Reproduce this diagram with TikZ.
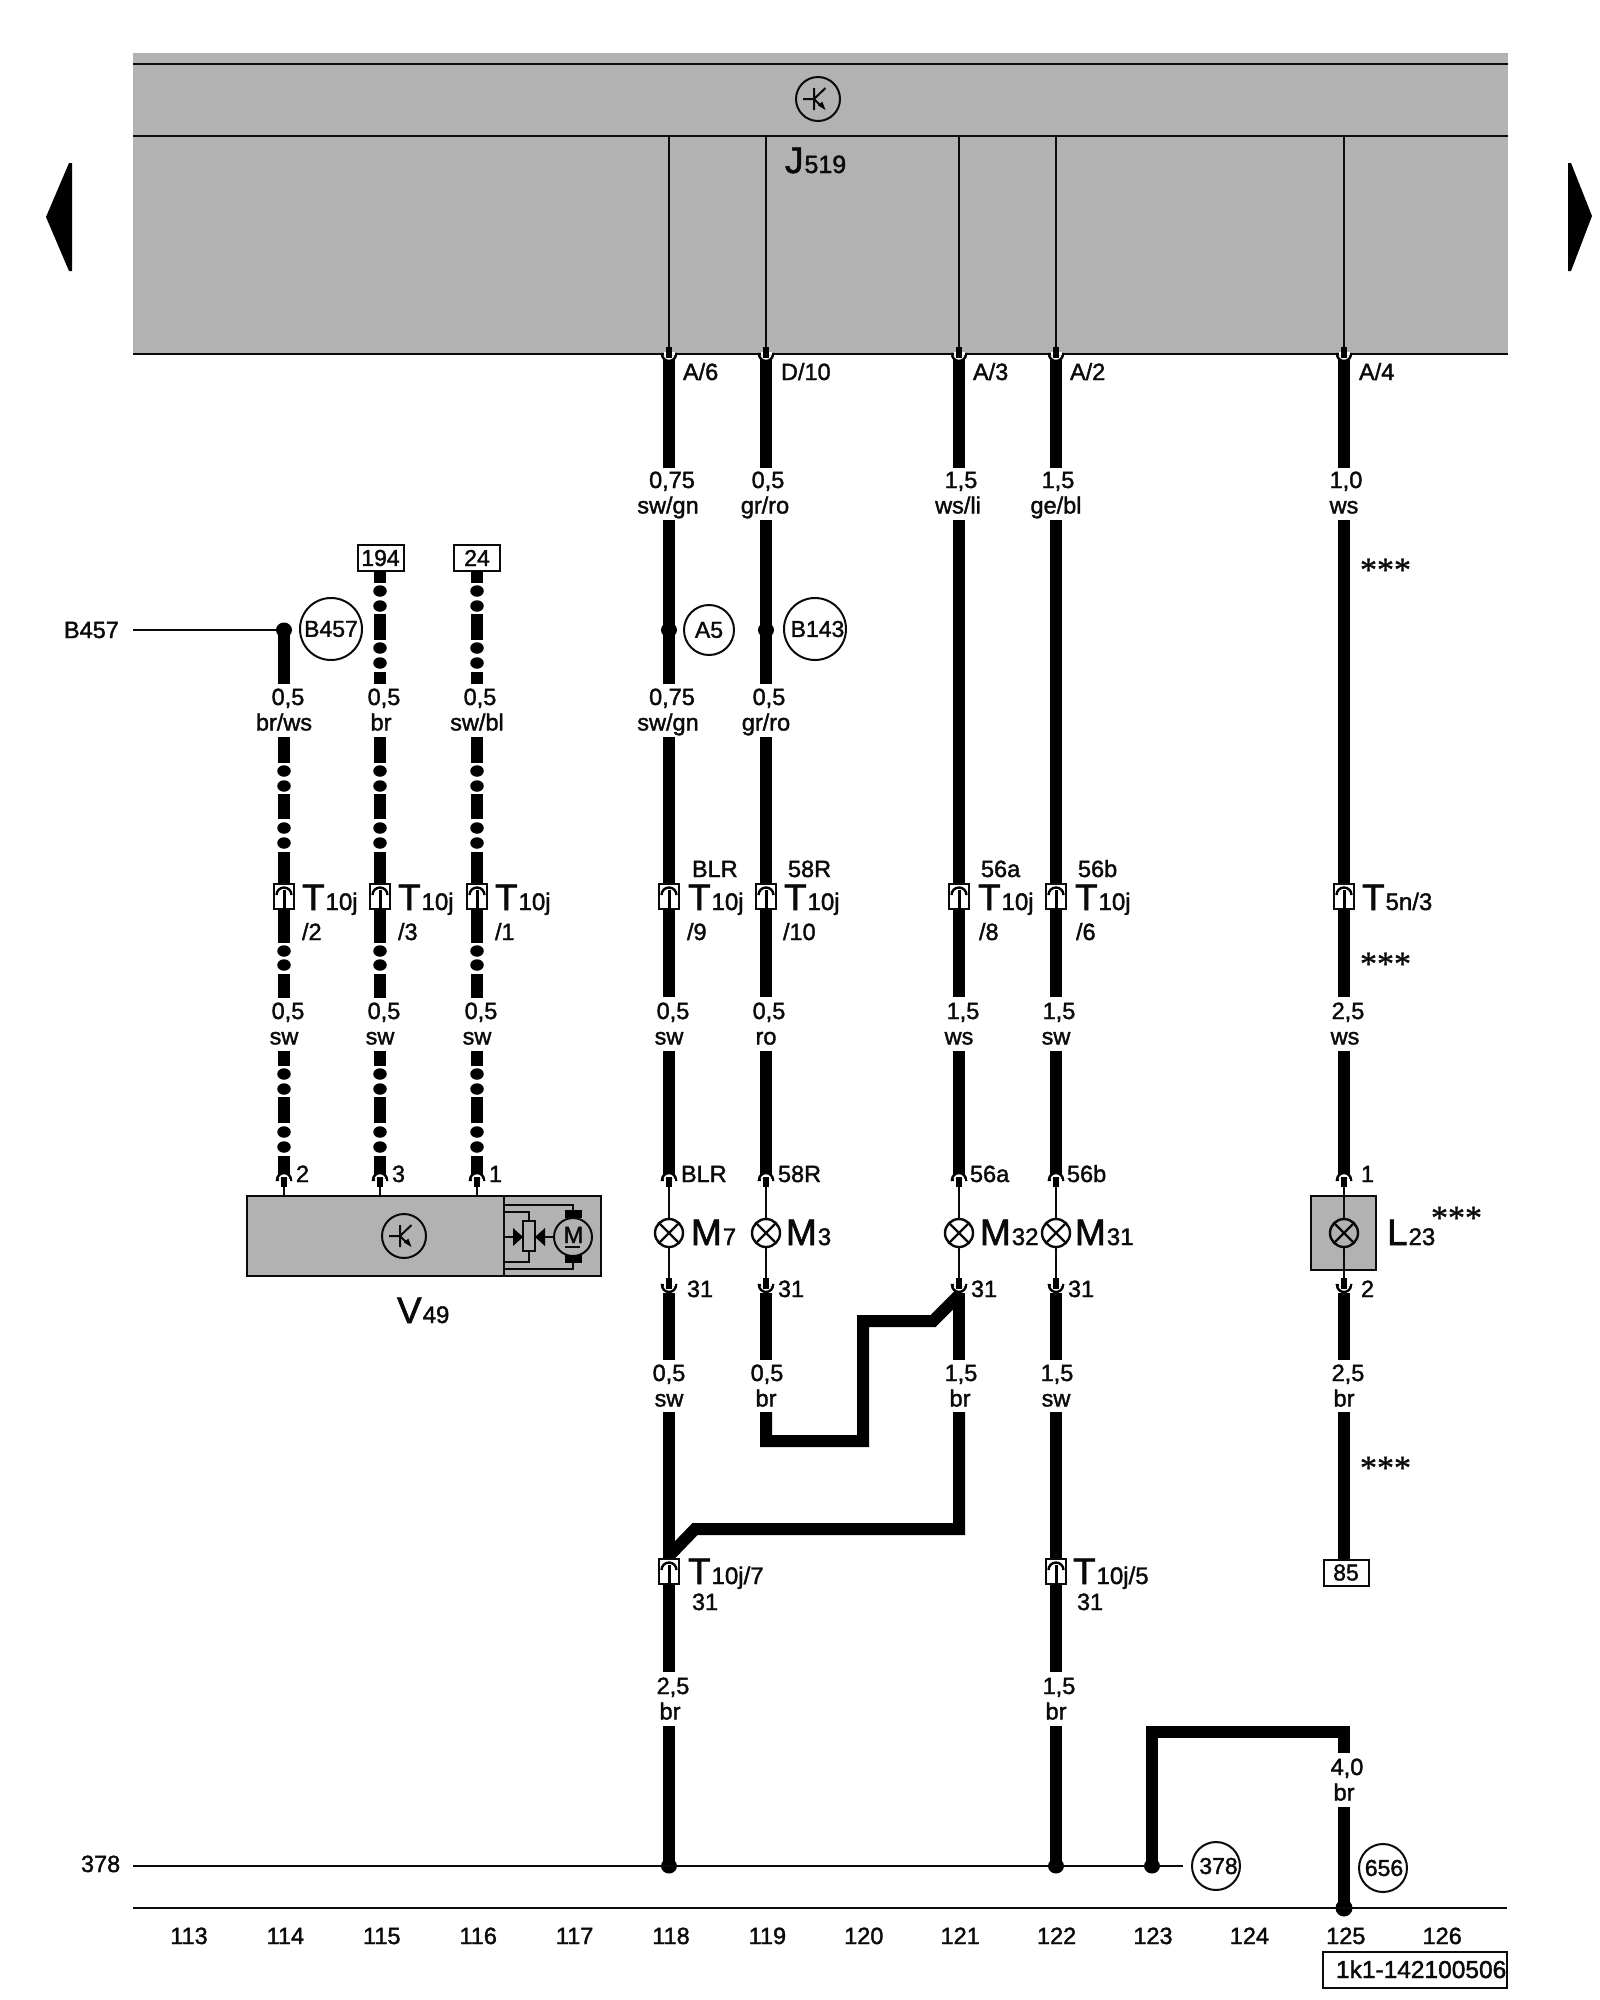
\documentclass[tikz,border=0pt]{standalone}
\usepackage{fontspec}
\usetikzlibrary{shapes.geometric}
\setmainfont{Liberation Sans}[FakeBold=1.6]
\newfontfamily\starfont{Liberation Serif}[FakeBold=0.8]
\newcommand\fsz[1]{\fontsize{#1}{#1}\selectfont}
\definecolor{panel}{HTML}{B2B2B2}
\definecolor{ink}{HTML}{0A0A0A}
\tikzset{
  wire/.style={line width=12pt,draw=black,line cap=butt,line join=miter},
  thinw/.style={line width=2pt,draw=ink,line cap=butt},
  rule/.style={line width=2.6pt,draw=ink},
  txt/.style={inner sep=0pt,outer sep=0pt,text=ink,font=\fsz{23.5}},
  west/.style={txt,anchor=base west},
  mid/.style={txt,anchor=base},
  ring/.style={circle,draw=ink,line width=2pt,inner sep=0pt,font=\fsz{23},text=ink},
  tagbox/.style={rectangle,draw=ink,line width=2pt,fill=white,inner sep=0pt,font=\fsz{23},text=ink,minimum width=46pt,minimum height=26pt},
  conbox/.style={rectangle,draw=ink,line width=2pt,fill=white,inner sep=0pt,minimum width=20pt,minimum height=25pt},
  lampn/.style={circle,draw=ink,line width=2.4pt,inner sep=0pt,minimum size=28pt},
  joint/.style={ellipse,fill=black,inner sep=0pt,minimum width=16pt,minimum height=15pt},
  blob/.style={ellipse,fill=black,inner sep=0pt,minimum width=13.5pt,minimum height=11.5pt}
}
% straight wire segment
\newcommand\seg[3]{\coordinate (s#1-#2) at (#1,#2);\coordinate (s#1-#3) at (#1,#3);\draw[wire] (s#1-#2) -- (s#1-#3);}
% round dot on a dotted wire
\newcommand\dotw[2]{\node[blob] (d#1-#2) at (#1,#2) {};}
% arch: the end of a wire that comes from above
\newcommand\archpin[3]{%
  \path[fill=white,draw=black,line width=2.4pt] (#2-7,#3+2) arc[start angle=180,end angle=360,radius=7] -- cycle;
  \draw[draw=white,line width=3pt] (#2-5.5,#3+2.6) -- (#2+5.5,#3+2.6);
  \fill[black] (#2-2.6,#3-1) rectangle (#2+2.6,#3+9);
  \coordinate (#1) at (#2,#3+9);}
% cup: the start of a wire that goes on below
\newcommand\cuppin[3]{%
  \path[fill=white,draw=black,line width=2.4pt] (#2-7,#3-1) arc[start angle=180,end angle=0,radius=7] -- cycle;
  \draw[draw=white,line width=3pt] (#2-5.5,#3-1.6) -- (#2+5.5,#3-1.6);
  \fill[black] (#2-2.6,#3-8) rectangle (#2+2.6,#3+3);
  \coordinate (#1) at (#2,#3-8);}
% connector station
\newcommand\station[3]{%
  \node[conbox] (#1) at (#2,#3) {};
  \draw[line width=2.4pt,draw=black] (#2-7.5,#3-1) arc[start angle=180,end angle=360,radius=7.5];
  \draw[line width=3pt,draw=black] (#2,#3-6) -- (#1.south);}
% lamp
\newcommand\lampsym[3]{%
  \node[lampn] (#1) at (#2,#3) {};
  \draw[line width=2.2pt,draw=ink] (#2-9.6,#3-9.6) -- (#2+9.6,#3+9.6) (#2-9.6,#3+9.6) -- (#2+9.6,#3-9.6);}
% transistor in a ring
\newcommand\transis[3]{%
  \node[ring,minimum size=44pt] (#1) at (#2,#3) {};
  \draw[line width=2pt,draw=ink] (#2-15,#3) -- (#2-4,#3) (#2-4,#3-11) -- (#2-4,#3+11) (#2-4,#3) -- (#2+7.5,#3-11) (#2-4,#3) -- (#2+3,#3+7);
  \fill[black] (#2+7.5,#3+11) -- (#2+4.3,#3+2.6) -- (#2+0,#3+6.4) -- cycle;}
% big letter with index
\newcommand\bigtag[5]{\node[west] (#1) at (#2,#3) {{\fsz{37}#4}{\fsz{24}\kern1pt #5}};}
% cross-section and colour
\newcommand\gauge[6]{\node[mid] (g#1a) at (#2,#4) {#5};\node[mid] (g#1b) at (#3,#4+25.5) {#6};}
% a dotted wire below the connector row
\newcommand\lowerdotted[1]{%
  \seg{#1}{737}{763}\seg{#1}{794}{819}\seg{#1}{852}{943}\seg{#1}{974}{998}\seg{#1}{1051}{1066}\seg{#1}{1097}{1123}\seg{#1}{1156}{1174}
  \foreach \yy in {771,786,828,843,951,965,1074,1089,1132,1147} {\dotw{#1}{\yy}}}
\newcommand\upperdotted[1]{%
  \seg{#1}{571}{583}\seg{#1}{614}{640}\seg{#1}{672}{684}
  \foreach \yy in {591,606,648,663} {\dotw{#1}{\yy}}}
\begin{document}
\begin{tikzpicture}[x=1pt,y=-1pt]
\useasboundingbox (0,0) rectangle (1600,2000);
% control unit panel
\fill[panel] (133,53) rectangle (1508,354);
\coordinate (pl1) at (133,64);\coordinate (pr1) at (1508,64);
\coordinate (pl2) at (133,136);\coordinate (pr2) at (1508,136);
\coordinate (pl3) at (133,354);\coordinate (pr3) at (1508,354);
\draw[rule] (pl1) -- (pr1) (pl2) -- (pr2) (pl3) -- (pr3);
\fill[black] (72,163) -- (69,163) -- (46,217) -- (69,271) -- (72,271) -- cycle;
\fill[black] (1568,163) -- (1571,163) -- (1592,216) -- (1571,271) -- (1568,271) -- cycle;
\transis{tj}{818}{99}
\node[west] (jn) at (785,173) {{\fsz{37}J}{\fsz{25}\kern1pt 519}};
% leads inside the panel
\foreach \xx in {669,766,959,1056,1344} {
  \seg{\xx}{360}{468}
  \coordinate (top\xx) at (\xx,136);
  \cuppin{pin\xx}{\xx}{355}
  \draw[thinw] (top\xx) -- (pin\xx);
  \seg{\xx}{1051}{1174}
}
\foreach \xx in {669,766} {\seg{\xx}{520}{684}\seg{\xx}{737}{997}}
\foreach \xx in {959,1056,1344} {\seg{\xx}{520}{997}}
\foreach \nm/\xx/\lbl in {a/683/A\slash 6,b/781/D\slash 10,c/973/A\slash 3,d/1070/A\slash 2,e/1359/A\slash 4}
  {\node[west] (pt\nm) at (\xx,380) {\lbl};}
% gauges, first row
\gauge{r1a}{672}{668}{488}{0,75}{sw/gn}
\gauge{r1b}{768}{765}{488}{0,5}{gr/ro}
\gauge{r1c}{961}{958}{488}{1,5}{ws/li}
\gauge{r1d}{1058}{1056}{488}{1,5}{ge/bl}
\gauge{r1e}{1346}{1344}{488}{1,0}{ws}
% second row
\gauge{r2a}{288}{284}{705}{0,5}{br/ws}
\gauge{r2b}{384}{381}{705}{0,5}{br}
\gauge{r2c}{480}{477}{705}{0,5}{sw/bl}
\gauge{r2d}{672}{668}{705}{0,75}{sw/gn}
\gauge{r2e}{769}{766}{705}{0,5}{gr/ro}
% third row
\gauge{r3a}{288}{284}{1019}{0,5}{sw}
\gauge{r3b}{384}{380}{1019}{0,5}{sw}
\gauge{r3c}{481}{477}{1019}{0,5}{sw}
\gauge{r3d}{673}{669}{1019}{0,5}{sw}
\gauge{r3e}{769}{766}{1019}{0,5}{ro}
\gauge{r3f}{963}{959}{1019}{1,5}{ws}
\gauge{r3g}{1059}{1056}{1019}{1,5}{sw}
\gauge{r3h}{1348}{1345}{1019}{2,5}{ws}
% fourth row
\gauge{r4a}{669}{669}{1381}{0,5}{sw}
\gauge{r4b}{767}{766}{1381}{0,5}{br}
\gauge{r4c}{961}{960}{1381}{1,5}{br}
\gauge{r4d}{1057}{1056}{1381}{1,5}{sw}
\gauge{r4e}{1348}{1344}{1381}{2,5}{br}
% fifth row
\gauge{r5a}{673}{670}{1694}{2,5}{br}
\gauge{r5b}{1059}{1056}{1694}{1,5}{br}
\gauge{r5c}{1347}{1344}{1775}{4,0}{br}
% dotted wires with their tags
\node[tagbox] (t194) at (380.5,558) {194};
\node[tagbox] (t24) at (477,558) {24};
\upperdotted{380}
\upperdotted{477}
\coordinate (lb) at (133,630);
\node[joint] (jb) at (284,630) {};
\draw[thinw] (lb) -- (jb);
\seg{284}{630}{684}
\node[west] (nb) at (64,638) {B457};
\node[ring,minimum size=62pt] (rb) at (331,629) {B457};
\lowerdotted{284}
\lowerdotted{380}
\lowerdotted{477}
\node[joint] (j118) at (669,630) {};
\node[joint] (j119) at (766,630) {};
\node[ring,minimum size=50pt] (ra) at (709,630) {A5};
\node[ring,minimum size=62pt] (rc) at (815,629) {\kern5pt B143};
% connector stations
\foreach \nm/\xx in {a/284,b/380,c/477,d/669,e/766,f/959,g/1056,h/1344}
  {\station{st\nm}{\xx}{896}}
\bigtag{ta}{302}{910}{T}{10j}
\bigtag{tb}{398}{910}{T}{10j}
\bigtag{tc}{495}{910}{T}{10j}
\bigtag{td}{688}{910}{T}{10j}
\bigtag{te}{784}{910}{T}{10j}
\bigtag{tf}{978}{910}{T}{10j}
\bigtag{tg}{1075}{910}{T}{10j}
\bigtag{th}{1362}{910}{T}{5n/3}
\foreach \nm/\xx/\lbl in {a/302/\slash 2,b/398/\slash 3,c/495/\slash 1,d/687/\slash 9,e/783/\slash 10,f/979/\slash 8,g/1076/\slash 6}
  {\node[west] (sl\nm) at (\xx,940) {\lbl};}
\foreach \nm/\xx/\lbl in {d/692/BLR,e/788/58R,f/981/56a,g/1078/56b}
  {\node[west] (up\nm) at (\xx,877) {\lbl};}
% V49
\draw[line width=2.6pt,draw=ink,fill=panel] (247,1196) rectangle (601,1276);
\draw[line width=2.6pt,draw=ink] (504,1196) -- (504,1276);
\transis{tv}{404}{1236}
\bigtag{vn}{397}{1323}{V}{49}
\foreach \xx/\lbl/\lx in {284/2/296,380/3/392,477/1/489} {
  \archpin{ap\xx}{\xx}{1178}
  \coordinate (vp\xx) at (\xx,1196);
  \draw[thinw] (ap\xx) -- (vp\xx);
  \node[west] (vl\xx) at (\lx,1182) {\lbl};
}
\draw[line width=2pt,draw=ink] (504,1205) -- (573,1205) -- (573,1210);
\fill[black] (565,1210) rectangle (582,1218);
\node[circle,draw=ink,line width=2pt,minimum size=38pt,inner sep=0pt] (mot) at (573,1237) {};
\node[mid] (motm) at (573.5,1243) {M};
\draw[line width=2pt,draw=ink] (565,1247) -- (580,1247);
\fill[black] (565,1255) rectangle (582,1263);
\draw[line width=2pt,draw=ink] (573,1263) -- (573,1269) -- (504,1269);
\draw[line width=2pt,draw=ink,fill=panel] (523,1221) rectangle (535,1251);
\draw[line width=2pt,draw=ink] (504,1212) -- (529,1212) -- (529,1221);
\draw[line width=2pt,draw=ink] (529,1251) -- (529,1262) -- (504,1262);
\draw[line width=2pt,draw=ink] (504,1237) -- (513,1237);
\fill[black] (523,1237) -- (513,1228) -- (513,1246) -- cycle;
\fill[black] (535,1237) -- (545,1228) -- (545,1246) -- cycle;
\draw[line width=2pt,draw=ink] (545,1237) -- (mot.west);
% lamps
\foreach \nm/\xx in {a/669,b/766,c/959,d/1056} {
  \archpin{la\nm}{\xx}{1178}
  \lampsym{lamp\nm}{\xx}{1233}
  \cuppin{lc\nm}{\xx}{1286}
  \draw[thinw] (la\nm) -- (lamp\nm.north);
  \draw[thinw] (lamp\nm.south) -- (lc\nm);
}
\draw[line width=2.6pt,draw=ink,fill=panel] (1311,1196) rectangle (1376,1270);
\archpin{lae}{1344}{1178}
\lampsym{lampe}{1344}{1233}
\cuppin{lce}{1344}{1286}
\draw[thinw] (lae) -- (lampe.north);
\draw[thinw] (lampe.south) -- (lce);
\bigtag{ma}{691}{1245}{M}{7}
\bigtag{mb}{786}{1245}{M}{3}
\bigtag{mc}{980}{1245}{M}{32}
\bigtag{md}{1075}{1245}{M}{31}
\bigtag{le}{1387}{1245}{L}{23}
\foreach \nm/\xx/\lbl in {a/681/BLR,b/778/58R,c/970/56a,d/1067/56b,e/1361/1}
  {\node[west] (fn\nm) at (\xx,1182) {\lbl};}
\foreach \nm/\xx/\lbl in {a/687/31,b/778/31,c/971/31,d/1068/31,e/1361/2}
  {\node[west] (en\nm) at (\xx,1297) {\lbl};}
% stars
\foreach \nm/\xx/\yy in {a/1360/581,b/1360/975,c/1360/1479,d/1431/1229}
  {\node[west,font=\starfont\fsz{34}] (star\nm) at (\xx,\yy) {***};}
% lower wires
\seg{669}{1293}{1360}\seg{766}{1293}{1360}\seg{959}{1293}{1360}\seg{1056}{1293}{1360}\seg{1344}{1293}{1360}
\seg{669}{1412}{1672}\seg{669}{1726}{1867}
\seg{1056}{1412}{1672}\seg{1056}{1726}{1867}
\seg{1344}{1412}{1560}
\node[tagbox,minimum width=45pt] (t85) at (1346,1572.5) {85};
\coordinate (ja) at (766,1412);\coordinate (jb2) at (766,1441);\coordinate (jc) at (863,1441);
\coordinate (jd) at (863,1321);\coordinate (je) at (933,1321);\coordinate (jf) at (959,1295);
\draw[wire] (ja) -- (jb2) -- (jc) -- (jd) -- (je) -- (jf);
\coordinate (ka) at (959,1412);\coordinate (kb) at (959,1529);\coordinate (kc) at (695,1529);\coordinate (kd) at (669,1556);
\draw[wire] (ka) -- (kb) -- (kc) -- (kd);
\station{sti}{669}{1571}
\station{stj}{1056}{1571}
\bigtag{ti}{688}{1584}{T}{10j/7}
\bigtag{tj2}{1073}{1584}{T}{10j/5}
\node[west] (ei) at (692,1610) {31};
\node[west] (ej) at (1077,1610) {31};
% ground bus
\coordinate (bl) at (133,1866);
\node[west] (nbus) at (81,1872) {378};
\node[joint] (ga) at (669,1866) {};
\node[joint] (gb) at (1056,1866) {};
\node[joint] (gc) at (1152,1866) {};
\coordinate (be) at (1183,1866);
\draw[thinw,line width=2.4pt] (bl) -- (be);
\node[ring,minimum size=48pt] (r378) at (1216,1866) {\kern5pt 378};
\coordinate (ua) at (1152,1866);\coordinate (ub) at (1152,1732);\coordinate (uc) at (1344,1732);\coordinate (ud) at (1344,1753);
\draw[wire] (ua) -- (ub) -- (uc) -- (ud);
\seg{1344}{1807}{1908}
\node[joint,minimum width=17pt,minimum height=17pt] (gd) at (1344,1908) {};
\node[ring,minimum size=48pt] (r656) at (1383,1868) {\kern2pt 656};
\coordinate (fl) at (133,1908);\coordinate (fr) at (1507,1908);
\draw[rule] (fl) -- (fr);
\foreach \nn [count=\ii from 0] in {113,114,115,116,117,118,119,120,121,122,123,124,125,126}
  {\node[mid] (col\nn) at ({189+96.4*\ii},1944) {\nn};}
\node[rectangle,draw=ink,line width=2pt,minimum width=184pt,minimum height=36pt,inner sep=0pt] (code) at (1415,1970) {};
\node[west,font=\fsz{24.5}] (codet) at (1336,1978) {1k1-142100506};
\end{tikzpicture}
\end{document}
